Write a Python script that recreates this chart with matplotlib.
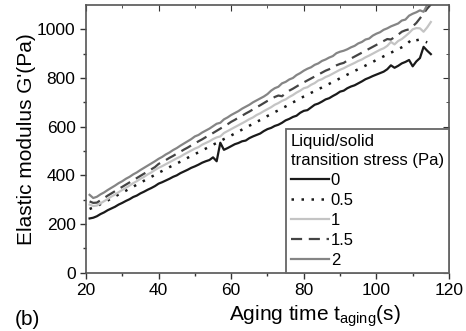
import numpy as np
import matplotlib
matplotlib.use("Agg")
import matplotlib.pyplot as plt

plt.rcParams['font.family'] = ['Liberation Sans', 'DejaVu Sans']

t = list(range(21, 116))

g_0 = [223, 226, 232, 241, 248, 257, 264, 271, 280, 287,
       295, 302, 311, 317, 326, 333, 341, 348, 356, 366,
       372, 379, 386, 394, 400, 409, 416, 423, 431, 437,
       444, 452, 458, 463, 474, 458, 534, 505, 512, 520,
       528, 533, 540, 543, 553, 560, 566, 572, 582, 590,
       595, 603, 608, 616, 626, 632, 640, 645, 657, 665,
       668, 679, 690, 695, 703, 712, 717, 726, 734, 744,
       748, 758, 765, 770, 778, 786, 795, 801, 808, 814,
       820, 826, 836, 852, 842, 850, 860, 866, 874, 848,
       868, 882, 928, 912, 898]

g_05 = [262, 268, 272, 282, 290, 297, 306, 313, 322, 330,
        337, 346, 353, 362, 369, 378, 386, 394, 402, 411,
        418, 426, 434, 441, 449, 456, 464, 472, 480, 487,
        495, 503, 510, 518, 526, 533, 541, 549, 556, 564,
        572, 580, 588, 596, 604, 611, 620, 627, 636, 644,
        651, 660, 667, 676, 683, 692, 700, 707, 716, 724,
        731, 739, 746, 754, 761, 769, 776, 784, 791, 799,
        806, 814, 821, 829, 836, 844, 851, 859, 866, 874,
        881, 889, 896, 904, 911, 919, 926, 934, 948, 962,
        955, 958, 952, 946, np.nan]

g_1 = [280, 274, 276, 285, 294, 303, 313, 321, 331, 340,
       349, 358, 368, 376, 386, 394, 404, 412, 422, 431,
       438, 446, 454, 462, 470, 477, 486, 494, 502, 510,
       516, 526, 533, 540, 549, 556, 560, 574, 582, 590,
       598, 606, 614, 622, 631, 638, 648, 655, 664, 672,
       680, 690, 697, 706, 712, 722, 730, 740, 748, 758,
       762, 772, 779, 790, 795, 804, 810, 818, 826, 834,
       840, 848, 855, 862, 870, 876, 885, 892, 900, 908,
       916, 922, 932, 948, 938, 952, 960, 972, 985, 1000,
       1005, 1004, 990, 1008, 1030]

g_15 = [293, 287, 288, 298, 307, 317, 326, 335, 344, 353,
        362, 371, 380, 389, 398, 407, 416, 425, 434, 447,
        455, 463, 472, 480, 489, 497, 506, 514, 523, 531,
        540, 548, 557, 565, 574, 583, 592, 601, 610, 620,
        628, 637, 645, 654, 662, 671, 680, 688, 697, 706,
        714, 722, 728, 725, 738, 748, 756, 765, 774, 782,
        790, 798, 806, 814, 822, 830, 836, 844, 852, 858,
        862, 872, 880, 888, 896, 904, 912, 920, 928, 936,
        944, 952, 960, 958, 968, 978, 990, 996, 1000, 1012,
        1026, 1045, 1065, 1085, 1102]

g_2 = [320, 307, 312, 322, 330, 340, 349, 358, 368, 376,
       386, 394, 404, 412, 422, 431, 440, 449, 458, 468,
       476, 486, 494, 504, 512, 522, 531, 540, 549, 560,
       566, 576, 584, 592, 602, 612, 616, 630, 638, 648,
       656, 664, 674, 682, 690, 700, 708, 716, 724, 734,
       748, 758, 764, 778, 784, 794, 800, 812, 820, 830,
       838, 844, 854, 860, 870, 876, 884, 890, 902, 908,
       912, 918, 926, 932, 942, 948, 958, 962, 974, 982,
       988, 998, 1004, 1012, 1018, 1024, 1036, 1040, 1056, 1064,
       1070, 1078, 1072, 1100, 1118]

labels = ['0', '0.5', '1', '1.5', '2']
series = [g_0, g_05, g_1, g_15, g_2]
colors = ['#1a1a1a', '#1a1a1a', '#c4c4c4', '#444444', '#858585']
styles = ['-', (0, (1, 3)), '-', (0, (5, 3)), '-']
widths = [1.6, 1.8, 1.6, 1.6, 1.6]

fig = plt.figure(figsize=(4.66, 3.31), dpi=100)
ax = fig.add_axes([0.1845, 0.176, 0.779, 0.809])

for y, lab, c, ls, lw in zip(series, labels, colors, styles, widths):
    ax.plot(t, y, color=c, linestyle=ls, linewidth=lw, label=lab)

ax.set_xlim(20, 120)
ax.set_ylim(0, 1100)
ax.set_xticks([20, 40, 60, 80, 100, 120])
ax.set_xticks(range(30, 120, 20), minor=True)
ax.set_yticks([0, 200, 400, 600, 800, 1000])
ax.set_yticks(range(100, 1100, 200), minor=True)
ax.tick_params(axis='both', which='major', direction='out', length=4, width=1,
               labelsize=12.5, colors='#333333', labelcolor='black')
ax.tick_params(axis='both', which='minor', direction='out', length=2.5, width=1,
               colors='#333333')
for s in ax.spines.values():
    s.set_color('#555555')
    s.set_linewidth(1.2)

secx = ax.secondary_xaxis('top')
secx.set_xticks([20, 40, 60, 80, 100, 120])
secx.set_xticks(range(30, 120, 20), minor=True)
secx.tick_params(which='major', direction='in', length=4, labeltop=False, colors='#333333')
secx.tick_params(which='minor', direction='in', length=2.5, colors='#333333')
secx.spines['top'].set_visible(False)
secy = ax.secondary_yaxis('right')
secy.set_yticks([0, 200, 400, 600, 800, 1000])
secy.set_yticks(range(100, 1100, 200), minor=True)
secy.tick_params(which='major', direction='in', length=4, labelright=False, colors='#333333')
secy.tick_params(which='minor', direction='in', length=2.5, colors='#333333')
secy.spines['right'].set_visible(False)

ax.set_ylabel("Elastic modulus G'(Pa)", fontsize=15, labelpad=1)
ax.set_xlabel(r"Aging time t$_{\mathregular{aging}}$(s)", fontsize=15, labelpad=0)
ax.xaxis.set_label_coords(0.631, -0.112)

leg = ax.legend(title="Liquid/solid\ntransition stress (Pa)", loc='lower right',
                bbox_to_anchor=(1.0, 0.0), fontsize=12, title_fontsize=12,
                frameon=True, fancybox=False, framealpha=1, edgecolor='#666666',
                labelspacing=0.3, handlelength=2.3, handletextpad=0.1,
                borderpad=0.3, borderaxespad=0.0, alignment='left')
leg.get_frame().set_linewidth(1.3)
leg.get_title().set_linespacing(1.3)

fig.text(15 / 466, 1 - 325 / 331, "(b)", fontsize=15)

fig.savefig("out.png", dpi=100)
